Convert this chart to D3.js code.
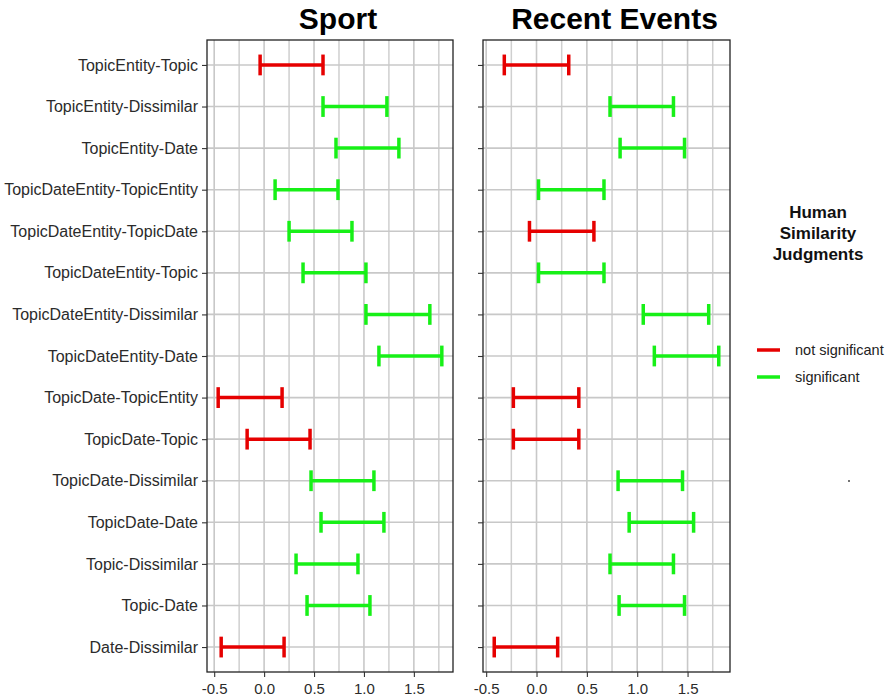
<!DOCTYPE html>
<html>
<head>
<meta charset="utf-8">
<script src="https://cdn.jsdelivr.net/npm/d3@7"></script>
<style>
body { margin: 0; background: #fff; }
text { font-family: "Liberation Sans", Arial, sans-serif; }
</style>
</head>
<body>
<div id="chart"></div>
<script>
var w = 891;
var h = 700;

// comparisons, top to bottom
var comparisons = [
    "TopicEntity-Topic", "TopicEntity-Dissimilar", "TopicEntity-Date",
    "TopicDateEntity-TopicEntity", "TopicDateEntity-TopicDate", "TopicDateEntity-Topic",
    "TopicDateEntity-Dissimilar", "TopicDateEntity-Date", "TopicDate-TopicEntity",
    "TopicDate-Topic", "TopicDate-Dissimilar", "TopicDate-Date",
    "Topic-Dissimilar", "Topic-Date", "Date-Dissimilar"
];

var sportLow  = [-0.04, 0.59, 0.72, 0.11, 0.25, 0.39, 1.02, 1.15, -0.46, -0.17, 0.47, 0.57, 0.32, 0.43, -0.43];
var sportHigh = [ 0.59, 1.23, 1.35, 0.74, 0.88, 1.02, 1.66, 1.78,  0.18,  0.46, 1.10, 1.20, 0.94, 1.06,  0.20];
var sportSig  = [0, 1, 1, 1, 1, 1, 1, 1, 0, 0, 1, 1, 1, 1, 0];

var recentLow  = [-0.32, 0.73, 0.83, 0.02, -0.07, 0.02, 1.06, 1.17, -0.23, -0.23, 0.81, 0.92, 0.73, 0.82, -0.42];
var recentHigh = [ 0.32, 1.36, 1.47, 0.67,  0.57, 0.67, 1.71, 1.81,  0.42,  0.42, 1.45, 1.56, 1.36, 1.47,  0.21];
var recentSig  = [0, 1, 1, 1, 0, 1, 1, 1, 0, 0, 1, 1, 1, 1, 0];

var xTicks = [-0.5, 0, 0.5, 1, 1.5];
var legendLabels = ["not significant", "significant"];

var red = "#e60000";
var green = "#17f017";
var sigColour = function(s) { return s ? green : red; };

var svg = d3.select("#chart")
    .append("svg")
    .attr("width", w)
    .attr("height", h);

var panelTop = 40, panelBottom = 672;

var yScale = d3.scalePoint()
    .domain(comparisons)
    .range([panelTop, panelBottom])
    .padding(0.6);

var drawPanel = function(title, lows, highs, sigs, left, right, showLabels) {
    var data = comparisons.map(function(c, i) {
        return { name: c, low: lows[i], high: highs[i], sig: sigs[i] };
    });

    var minV = d3.min(lows), maxV = d3.max(highs);
    var pad = (maxV - minV) * 0.05;
    var xScale = d3.scaleLinear()
        .domain([minV - pad, maxV + pad])
        .range([left, right]);

    var g = svg.append("g");

    // grid: minor then major
    var minor = d3.range(-0.75, 2.01, 0.5).filter(function(v) {
        return v > xScale.domain()[0] && v < xScale.domain()[1];
    });
    g.selectAll(".minor").data(minor).enter().append("line")
        .attr("x1", function(d) { return xScale(d); })
        .attr("x2", function(d) { return xScale(d); })
        .attr("y1", panelTop).attr("y2", panelBottom)
        .attr("stroke", "#cfcfcf").attr("stroke-width", 1.5);
    g.selectAll(".major").data(xTicks).enter().append("line")
        .attr("x1", function(d) { return xScale(d); })
        .attr("x2", function(d) { return xScale(d); })
        .attr("y1", panelTop).attr("y2", panelBottom)
        .attr("stroke", "#c8c8c8").attr("stroke-width", 1.6);
    g.selectAll(".hgrid").data(comparisons).enter().append("line")
        .attr("x1", left).attr("x2", right)
        .attr("y1", function(d) { return yScale(d); })
        .attr("y2", function(d) { return yScale(d); })
        .attr("stroke", "#c8c8c8").attr("stroke-width", 1.6);

    // error bars
    var bars = g.selectAll(".bar").data(data).enter().append("g")
        .attr("stroke", function(d) { return sigColour(d.sig); })
        .attr("stroke-width", 3.5);
    bars.append("line")
        .attr("x1", function(d) { return xScale(d.low); })
        .attr("x2", function(d) { return xScale(d.high); })
        .attr("y1", function(d) { return yScale(d.name); })
        .attr("y2", function(d) { return yScale(d.name); });
    var capH = yScale.step() * 0.25;
    ["low", "high"].forEach(function(k) {
        bars.append("line")
            .attr("x1", function(d) { return xScale(d[k]); })
            .attr("x2", function(d) { return xScale(d[k]); })
            .attr("y1", function(d) { return yScale(d.name) - capH; })
            .attr("y2", function(d) { return yScale(d.name) + capH; });
    });

    // border
    g.append("rect")
        .attr("x", left).attr("y", panelTop)
        .attr("width", right - left).attr("height", panelBottom - panelTop)
        .attr("fill", "none").attr("stroke", "#222").attr("stroke-width", 1.3);

    var xAxis = g.append("g")
        .attr("transform", "translate(0," + panelBottom + ")")
        .call(d3.axisBottom(xScale).tickValues(xTicks).tickSize(5).tickPadding(4)
            .tickFormat(function(d) { return d.toFixed(1); }));
    var yAxis = g.append("g")
        .attr("transform", "translate(" + left + ",0)")
        .call(d3.axisLeft(yScale).tickSize(5).tickPadding(4)
            .tickFormat(function(d) { return showLabels ? d : ""; }));
    [xAxis, yAxis].forEach(function(a) {
        a.select(".domain").remove();
        a.selectAll(".tick line").attr("stroke", "#333").attr("stroke-width", 1.1);
        a.selectAll(".tick text").attr("fill", "#2b2b2b")
            .style("font-family", "'Liberation Sans', Arial, sans-serif");
    });
    xAxis.selectAll(".tick text").style("font-size", "15px").attr("dy", "0.85em");
    yAxis.selectAll(".tick text").style("font-size", "16px");

    g.append("text")
        .attr("x", (left + right) / 2 + 8)
        .attr("y", 29)
        .attr("text-anchor", "middle")
        .style("font-size", "30px")
        .style("font-weight", "bold")
        .attr("fill", "#000")
        .text(title);
};

drawPanel("Sport", sportLow, sportHigh, sportSig, 207, 453, true);
drawPanel("Recent Events", recentLow, recentHigh, recentSig, 483, 730, false);

// legend
var legend = svg.append("g");
["Human", "Similarity", "Judgments"].forEach(function(t, i) {
    legend.append("text")
        .attr("x", 818).attr("y", 218 + i * 21)
        .attr("text-anchor", "middle")
        .style("font-size", "17px").style("font-weight", "bold")
        .attr("fill", "#111")
        .text(t);
});
legendLabels.forEach(function(t, i) {
    var y = 350 + i * 27;
    legend.append("line")
        .attr("x1", 757).attr("x2", 780)
        .attr("y1", y).attr("y2", y)
        .attr("stroke", sigColour(i)).attr("stroke-width", 3.5);
    legend.append("text")
        .attr("x", 795).attr("y", y + 5)
        .style("font-size", "14.5px")
        .attr("fill", "#222")
        .text(t);
});

// stray dot in the original
svg.append("circle").attr("cx", 849).attr("cy", 481).attr("r", 1).attr("fill", "#444");
</script>
</body>
</html>
